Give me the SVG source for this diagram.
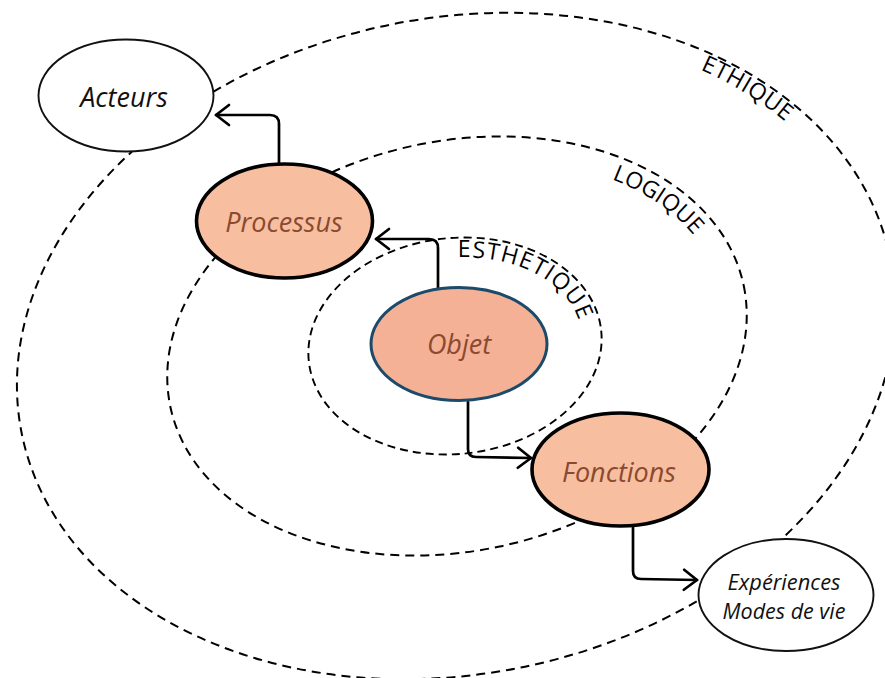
<svg xmlns="http://www.w3.org/2000/svg" width="885" height="678" viewBox="0 0 885 678">
<defs>
<marker id="arr" viewBox="0 0 20 24" refX="17" refY="12" markerWidth="20" markerHeight="24" markerUnits="userSpaceOnUse" orient="auto">
<path d="M4 2 L17 12 L4 22" fill="none" stroke="#000" stroke-width="2.7" stroke-linecap="round" stroke-linejoin="round"/>
</marker>
</defs>
<style>
.ring{fill:none;stroke:#000;stroke-width:2}
.ring2{fill:none;stroke:#000;stroke-width:1.9}
.lbl{font-family:"Open Sans","Noto Sans",sans-serif;font-size:23px;fill:#000}
.node-w{fill:#fff;stroke:#111;stroke-width:1.9}
.node-o{fill:#f7bea0;stroke:#000;stroke-width:3.6}
.ntxt{font-family:"Open Sans","Noto Sans",sans-serif;font-style:italic;text-anchor:middle}
.conn{fill:none;stroke:#000;stroke-width:2.7;stroke-linecap:round;stroke-linejoin:round}
</style>
<g id="rings">
<ellipse class="ring" cx="456" cy="346" rx="443" ry="328" transform="rotate(-11.4 456 346)" stroke-dasharray="9 6"/>
<ellipse class="ring" cx="457" cy="346" rx="293" ry="205" transform="rotate(-12 457 346)" stroke-dasharray="9 6"/>
<ellipse class="ring2" cx="455" cy="346" rx="147" ry="108" transform="rotate(-6 455 346)" stroke-dasharray="8 5"/>
<path id="pEth" d="M 750 123.3 A 424 309 0 0 1 878.4 319.1" fill="none" transform="rotate(-11.4 456 346)"/>
<path id="pLog" d="M 642.9 215.1 A 269 181 0 0 1 725 361.8" fill="none" transform="rotate(-12 457 346)"/>
<path id="pEst" d="M 467.2 258.4 A 127 88 0 0 1 580.1 361.3" fill="none" transform="rotate(-6 455 346)"/>
<text class="lbl" letter-spacing="0.6"><textPath href="#pEth">ETHIQUE</textPath></text>
<text class="lbl" letter-spacing="0"><textPath href="#pLog">LOGIQUE</textPath></text>
<text class="lbl" letter-spacing="1.2"><textPath href="#pEst">ESTHETIQUE</textPath></text>
</g>
<g id="connectors">
<path class="conn" d="M 279 164 L 279 124 Q 279 115 270 115 L 216 115" marker-end="url(#arr)"/>
<path class="conn" d="M 438 289 L 438 248 Q 438 239 429 239 L 376 239" marker-end="url(#arr)"/>
<path class="conn" d="M 468 402 L 468 449 Q 468 457 476 457 L 531 458" marker-end="url(#arr)"/>
<path class="conn" d="M 633 525 L 633 571 Q 633 579 641 579 L 697 580" marker-end="url(#arr)"/>
</g>
<g id="acteurs">
<ellipse class="node-w" cx="126" cy="95.5" rx="87.5" ry="56"/>
<text class="ntxt" x="124" y="107" font-size="27" fill="#111">Acteurs</text>
</g>
<g id="processus">
<ellipse class="node-o" cx="284.5" cy="221" rx="88" ry="57"/>
<text class="ntxt" x="284" y="232" font-size="27" fill="#8a4a30">Processus</text>
</g>
<g id="objet">
<ellipse cx="459" cy="344" rx="88" ry="56.5" fill="#f5b195" stroke="#1b4a6a" stroke-width="3"/>
<text class="ntxt" x="459" y="354" font-size="27" fill="#8a4a30">Objet</text>
</g>
<g id="fonctions">
<ellipse class="node-o" cx="620.5" cy="469.5" rx="88.5" ry="56.5"/>
<text class="ntxt" x="619" y="482" font-size="27" fill="#8a4a30">Fonctions</text>
</g>
<g id="experiences">
<ellipse class="node-w" cx="786" cy="595" rx="87.5" ry="56"/>
<text class="ntxt" x="784" y="590" font-size="21.8" fill="#111">Expériences</text>
<text class="ntxt" x="784" y="619" font-size="21.5" fill="#111">Modes de vie</text>
</g>
</svg>
